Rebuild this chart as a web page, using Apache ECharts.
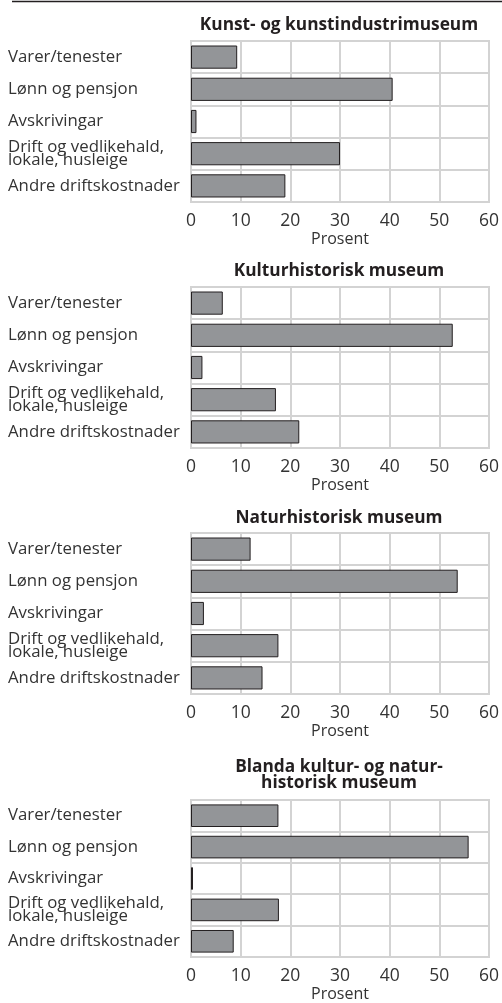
<!DOCTYPE html>
<html>
<head>
<meta charset="utf-8">
<script src="https://cdn.jsdelivr.net/npm/echarts@6/dist/echarts.min.js"></script>
<style>
html,body{margin:0;padding:0;background:#fff;}
#chart{width:502px;height:1003px;}
</style>
</head>
<body>
<div id="chart"></div>
<script>
const categories = ['Varer/tenester', 'Lønn og pensjon', 'Avskrivingar', 'Drift og vedlikehald,\nlokale, husleige', 'Andre driftskostnader'];
const panelTitles = ['Kunst- og kunstindustrimuseum', 'Kulturhistorisk museum', 'Naturhistorisk museum', 'Blanda kultur- og natur-\nhistorisk museum'];
const kunstValues = [9.3, 40.6, 1.1, 30.0, 19.0];
const kulturValues = [6.4, 52.7, 2.3, 17.1, 21.8];
const naturValues = [12.0, 53.7, 2.6, 17.6, 14.4];
const blandaValues = [17.6, 55.9, 0.4, 17.7, 8.6];
const xTicks = [0, 10, 20, 30, 40, 50, 60];
const axisName = 'Prosent';

const seriesValues = [kunstValues, kulturValues, naturValues, blandaValues];
const gridTops = [41, 287, 533, 800];
const gridHeights = [161, 161, 161, 160];
const titleTops = [25, 271.5, 518.5, 775];
const FONT = '"Open Sans", "Noto Sans", sans-serif';

const chart = echarts.init(document.getElementById('chart'), null, {renderer: 'canvas'});

const grids = [], xAxes = [], yAxes = [], series = [], titles = [];
for (let i = 0; i < 4; i++) {
  grids.push({left: 191, right: 12, top: gridTops[i], height: gridHeights[i],
    show: true, borderColor: '#d3d3d3', borderWidth: 2, containLabel: false});
  xAxes.push({
    type: 'value', gridIndex: i, min: xTicks[0], max: xTicks[xTicks.length - 1], interval: 10,
    axisLine: {show: false}, axisTick: {show: false},
    splitLine: {show: true, lineStyle: {color: '#d3d3d3', width: 2}},
    axisLabel: {color: '#333', fontFamily: FONT, fontSize: 17.5, margin: 10, showMinLabel: true, showMaxLabel: true},
    name: axisName, nameLocation: 'middle', nameGap: 29,
    nameTextStyle: {color: '#333', fontFamily: FONT, fontSize: 16}
  });
  yAxes.push({
    type: 'category', gridIndex: i, data: categories, inverse: true,
    axisLine: {show: false}, axisTick: {show: false},
    splitLine: {show: true, lineStyle: {color: '#d3d3d3', width: 2}},
    axisLabel: {color: '#333', fontFamily: FONT, fontSize: 16.8, align: 'left', margin: 183, lineHeight: 13.5}
  });
  series.push({
    type: 'bar', xAxisIndex: i, yAxisIndex: i, data: seriesValues[i],
    barCategoryGap: '28%', silent: true,
    itemStyle: {color: '#939598', borderColor: '#231f20', borderWidth: 1}
  });
  titles.push({
    text: panelTitles[i], left: 339, top: titleTops[i], textAlign: 'center', textVerticalAlign: 'middle', padding: 0,
    textStyle: {color: '#231f20', fontFamily: FONT, fontSize: 17.3, fontWeight: 'bold', lineHeight: 16.5}
  });
}

chart.setOption({
  animation: false,
  backgroundColor: '#fff',
  title: titles,
  grid: grids,
  xAxis: xAxes,
  yAxis: yAxes,
  series: series,
  graphic: [{type: 'line', shape: {x1: 12, y1: 1.5, x2: 502, y2: 1.5}, style: {stroke: '#231f20', lineWidth: 1.5}, silent: true}]
});
</script>
</body>
</html>
